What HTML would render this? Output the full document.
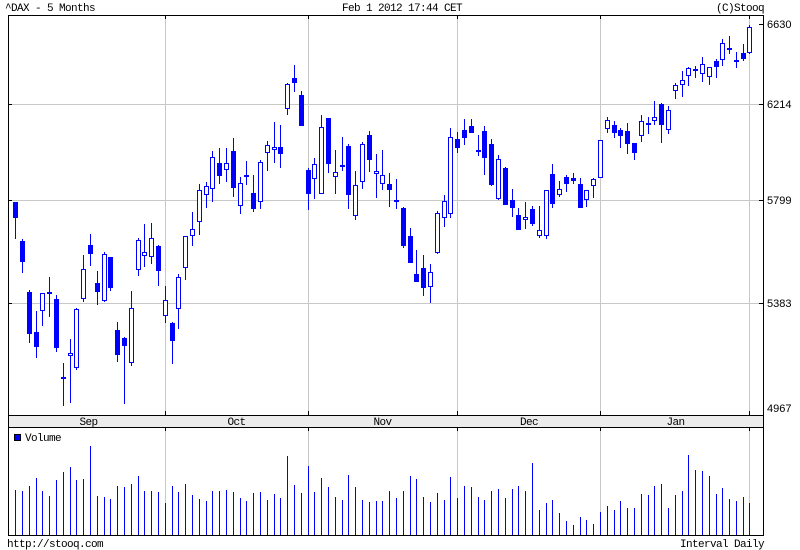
<!DOCTYPE html>
<html><head><meta charset="utf-8"><style>
html,body{margin:0;padding:0;background:#fff;}
svg{display:block;}
.m{font-family:"Liberation Mono",monospace;font-size:11px;letter-spacing:-0.6px;fill:#000;}
.a{font-family:"Liberation Sans",sans-serif;font-size:11px;fill:#000;}
</style></head><body>
<svg width="800" height="550" viewBox="0 0 800 550" xmlns="http://www.w3.org/2000/svg">
<rect width="800" height="550" fill="#fff"/>
<!-- grid -->
<path d="M9 104.5H763M9 200.5H763M9 303.5H763" stroke="#c8c8c8" stroke-width="1" fill="none"/>
<path d="M165.5 16V415M308.5 16V415M457.5 16V415M600.5 16V415M749.5 16V415M165.5 428V535M308.5 428V535M457.5 428V535M600.5 428V535M749.5 428V535" stroke="#c8c8c8" stroke-width="1" fill="none"/>
<!-- month band -->
<rect x="8" y="415" width="756" height="12" fill="#ececec"/>
<!-- wicks -->
<path stroke="#0000ff" stroke-width="1" fill="none" d="M15.5 202V239M22.5 239V273M29.5 290V343M36.5 311V358M42.5 293V326M49.5 277V317M56.5 295V352M63.5 363V406M70.5 339V403M76.5 308V370M83.5 255V302M90.5 234V266M97.5 271V305M104.5 252V302M110.5 257V291M117.5 322V362M124.5 337V404M131.5 291V366M138.5 238V276M144.5 224V267M151.5 223V264M158.5 245V286M165.5 286V323M172.5 322V364M178.5 274V329M185.5 236V280M192.5 212V246M199.5 184V235M206.5 182V208M212.5 151V202M219.5 148V184M226.5 148V182M233.5 138V197M240.5 177V214M246.5 161V185M253.5 175V212M260.5 160V209M267.5 141V171M274.5 122V163M280.5 125V168M287.5 83V115M294.5 65V92M301.5 91V126M308.5 168V210M314.5 158V199M321.5 115V194M328.5 118V173M335.5 150V194M342.5 137V171M348.5 144V209M355.5 171V220M362.5 142V189M369.5 131V172M376.5 154V198M382.5 150V190M389.5 173V207M396.5 179V209M403.5 207V248M410.5 228V263M416.5 250V282M423.5 255V296M430.5 264V303M437.5 211V254M444.5 195V227M450.5 128V218M457.5 132V153M464.5 119V145M471.5 119V133M478.5 135V156M484.5 126V175M491.5 139V186M498.5 155V200M505.5 167V205M512.5 189V217M518.5 208V230M525.5 202V229M532.5 206V226M539.5 206V238M546.5 190V239M552.5 164V208M559.5 181V197M566.5 175V192M573.5 173V184M580.5 178V208M586.5 190V207M593.5 178V198M600.5 140V178M607.5 117V133M614.5 121V138M620.5 128V148M627.5 123V154M634.5 143V160M641.5 115V142M648.5 117V134M654.5 101V125M661.5 103V143M668.5 106V134M675.5 83V99M682.5 71V97M688.5 67V86M695.5 66V78M702.5 57V82M709.5 67V85M716.5 59V78M722.5 39V66M729.5 36V54M736.5 52V68M743.5 44V61M749.5 25V54"/>
<!-- filled bodies -->
<path fill="#0000ff" d="M13 202h5v16h-5zM20 241h5v21h-5zM27 292h5v42h-5zM34 332h5v15h-5zM47 292h5v2h-5zM54 299h5v49h-5zM88 245h5v9h-5zM95 283h5v9h-5zM108 257h5v31h-5zM115 330h5v25h-5zM122 338h5v8h-5zM156 246h5v25h-5zM170 323h5v18h-5zM217 163h5v13h-5zM231 151h5v37h-5zM244 175h5v2h-5zM251 193h5v16h-5zM278 147h5v7h-5zM292 78h5v5h-5zM299 95h5v31h-5zM306 170h5v24h-5zM326 118h5v46h-5zM346 146h5v49h-5zM367 135h5v25h-5zM387 184h5v6h-5zM394 200h5v2h-5zM401 208h5v38h-5zM408 236h5v27h-5zM414 274h5v8h-5zM421 268h5v20h-5zM455 139h5v9h-5zM462 130h5v8h-5zM469 126h5v7h-5zM476 150h5v2h-5zM482 131h5v27h-5zM489 144h5v41h-5zM503 168h5v37h-5zM510 200h5v8h-5zM516 215h5v15h-5zM530 209h5v15h-5zM550 174h5v30h-5zM564 177h5v7h-5zM571 178h5v3h-5zM578 184h5v24h-5zM612 125h5v8h-5zM618 130h5v6h-5zM625 131h5v13h-5zM632 143h5v10h-5zM646 123h5v2h-5zM659 104h5v21h-5zM693 69h5v2h-5zM714 61h5v6h-5zM727 48h5v2h-5zM734 60h5v2h-5zM741 53h5v6h-5z"/>
<!-- hollow bodies -->
<path fill="#fff" stroke="#0000ff" stroke-width="1" d="M40.5 293.5h4v17h-4zM61.5 377.5h4v1h-4zM68.5 353.5h4v2h-4zM74.5 309.5h4v58h-4zM81.5 269.5h4v29h-4zM102.5 254.5h4v46h-4zM129.5 308.5h4v54h-4zM136.5 240.5h4v29h-4zM142.5 252.5h4v3h-4zM149.5 238.5h4v18h-4zM163.5 300.5h4v15h-4zM176.5 277.5h4v31h-4zM183.5 236.5h4v31h-4zM190.5 229.5h4v6h-4zM197.5 190.5h4v31h-4zM204.5 186.5h4v8h-4zM210.5 157.5h4v31h-4zM224.5 163.5h4v6h-4zM238.5 183.5h4v22h-4zM258.5 162.5h4v39h-4zM265.5 145.5h4v7h-4zM272.5 147.5h4v2h-4zM285.5 84.5h4v24h-4zM312.5 164.5h4v14h-4zM319.5 127.5h4v66h-4zM333.5 172.5h4v4h-4zM340.5 165.5h4v1h-4zM353.5 185.5h4v30h-4zM360.5 144.5h4v37h-4zM374.5 171.5h4v2h-4zM380.5 175.5h4v8h-4zM428.5 272.5h4v14h-4zM435.5 213.5h4v39h-4zM442.5 201.5h4v16h-4zM448.5 137.5h4v76h-4zM496.5 159.5h4v39h-4zM523.5 217.5h4v2h-4zM537.5 230.5h4v5h-4zM544.5 190.5h4v45h-4zM557.5 189.5h4v5h-4zM584.5 190.5h4v9h-4zM591.5 179.5h4v6h-4zM598.5 140.5h4v37h-4zM605.5 120.5h4v8h-4zM639.5 121.5h4v14h-4zM652.5 117.5h4v3h-4zM666.5 110.5h4v19h-4zM673.5 85.5h4v5h-4zM680.5 80.5h4v4h-4zM686.5 68.5h4v7h-4zM700.5 64.5h4v9h-4zM707.5 67.5h4v9h-4zM720.5 43.5h4v16h-4zM747.5 27.5h4v25h-4z"/>
<!-- volume -->
<path stroke="#0000ff" stroke-width="1" fill="none" d="M15.5 490V535M22.5 491V535M29.5 486V535M36.5 478V535M42.5 491V535M49.5 496V535M56.5 480V535M63.5 472V535M70.5 467V535M76.5 480V535M83.5 479V535M90.5 446V535M97.5 496V535M104.5 497V535M110.5 499V535M117.5 486V535M124.5 487V535M131.5 484V535M138.5 476V535M144.5 491V535M151.5 491V535M158.5 492V535M165.5 503V535M172.5 486V535M178.5 492V535M185.5 484V535M192.5 495V535M199.5 499V535M206.5 501V535M212.5 491V535M219.5 491V535M226.5 490V535M233.5 492V535M240.5 498V535M246.5 501V535M253.5 493V535M260.5 492V535M267.5 500V535M274.5 494V535M280.5 498V535M287.5 456V535M294.5 485V535M301.5 493V535M308.5 466V535M314.5 492V535M321.5 478V535M328.5 487V535M335.5 497V535M342.5 500V535M348.5 475V535M355.5 487V535M362.5 500V535M369.5 502V535M376.5 501V535M382.5 501V535M389.5 491V535M396.5 498V535M403.5 491V535M410.5 476V535M416.5 479V535M423.5 497V535M430.5 502V535M437.5 493V535M444.5 500V535M450.5 477V535M457.5 498V535M464.5 486V535M471.5 487V535M478.5 497V535M484.5 500V535M491.5 491V535M498.5 489V535M505.5 498V535M512.5 489V535M518.5 486V535M525.5 491V535M532.5 463V535M539.5 510V535M546.5 503V535M552.5 500V535M559.5 513V535M566.5 521V535M573.5 525V535M580.5 517V535M586.5 520V535M593.5 524V535M600.5 512V535M607.5 506V535M614.5 510V535M620.5 501V535M627.5 508V535M634.5 508V535M641.5 494V535M648.5 495V535M654.5 486V535M661.5 484V535M668.5 508V535M675.5 495V535M682.5 491V535M688.5 455V535M695.5 470V535M702.5 471V535M709.5 476V535M716.5 494V535M722.5 488V535M729.5 499V535M736.5 501V535M743.5 497V535M749.5 503V535"/>
<!-- frames -->
<path stroke="#000" stroke-width="1" fill="none" d="M8.5 15.5H763.5V535.5H8.5ZM8 415.5H764M8 427.5H764"/>
<!-- ticks -->
<path stroke="#000" stroke-width="1" fill="none" d="M165.5 16V19M308.5 16V19M457.5 16V19M600.5 16V19M749.5 16V19M165.5 411V415M308.5 411V415M457.5 411V415M600.5 411V415M749.5 411V415M165.5 428V431M308.5 428V431M457.5 428V431M600.5 428V431M749.5 428V431M9 104.5H12M9 200.5H12M9 303.5H12M759 24.5H763M759 104.5H763M759 200.5H763M759 303.5H763"/>
<!-- legend square -->
<rect x="14.5" y="434.5" width="6" height="6" fill="#0000ff" stroke="#000" stroke-width="1"/>
<!-- texts -->
<text class="m" x="5" y="11">^DAX - 5 Months</text>
<text class="m" x="342" y="11">Feb 1 2012 17:44 CET</text>
<text class="m" x="764" y="11" text-anchor="end">(C)Stooq</text>
<text class="a" x="767" y="28">6630</text>
<text class="a" x="767" y="108">6214</text>
<text class="a" x="767" y="204">5799</text>
<text class="a" x="767" y="307">5383</text>
<text class="a" x="767" y="412">4967</text>
<text class="m" x="88.5" y="425" text-anchor="middle">Sep</text>
<text class="m" x="236.5" y="425" text-anchor="middle">Oct</text>
<text class="m" x="382.5" y="425" text-anchor="middle">Nov</text>
<text class="m" x="529" y="425" text-anchor="middle">Dec</text>
<text class="m" x="675.5" y="425" text-anchor="middle">Jan</text>
<text class="m" x="25" y="441">Volume</text>
<text class="m" x="7" y="547">http://stooq.com</text>
<text class="m" x="764" y="547" text-anchor="end">Interval Daily</text>
</svg>
</body></html>
